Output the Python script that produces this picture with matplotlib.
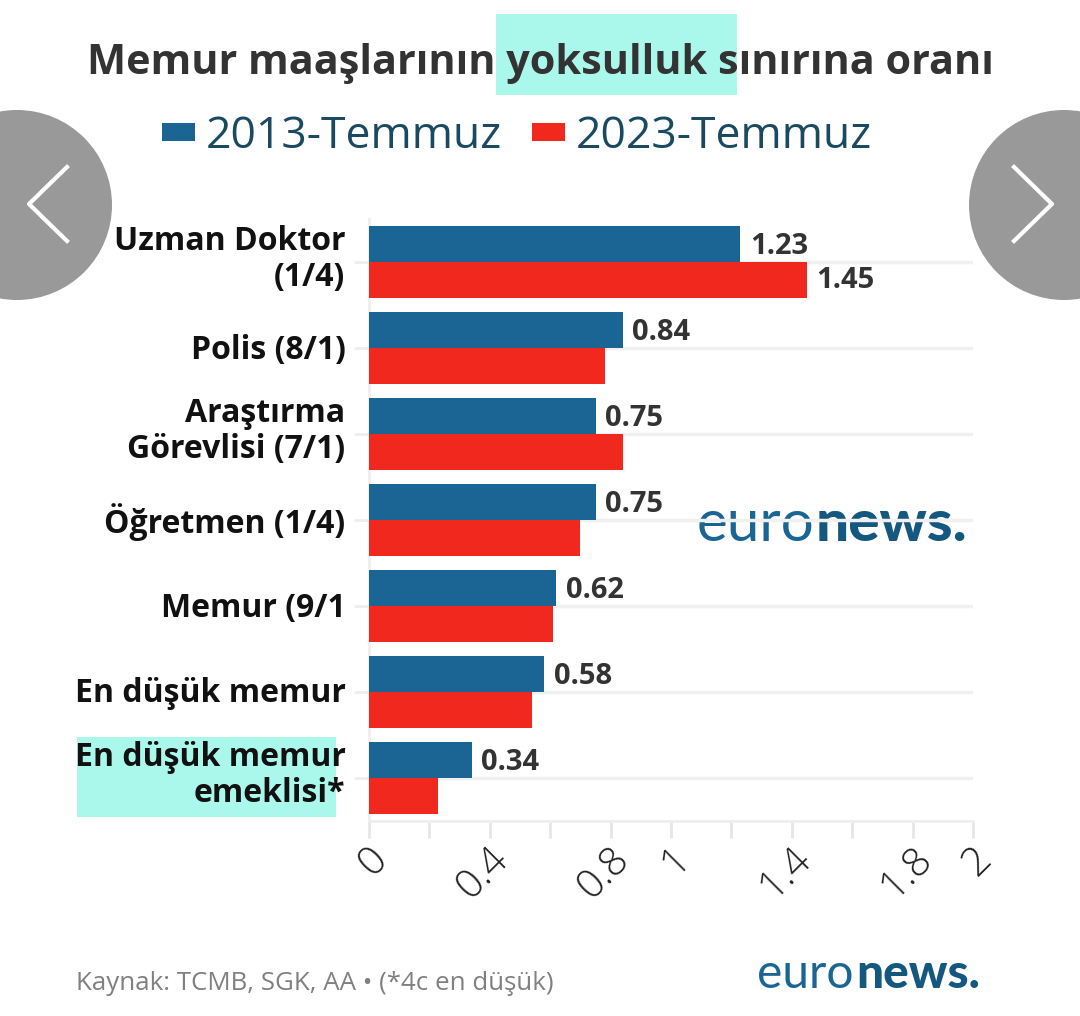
import matplotlib
matplotlib.use("Agg")
import matplotlib.pyplot as plt
from matplotlib.patches import Circle, Rectangle
from matplotlib.transforms import ScaledTranslation

plt.rcParams['font.family'] = ['Open Sans', 'DejaVu Sans']

# data
categories = ["Uzman Doktor\n(1/4)", "Polis (8/1)", "Araştırma\nGörevlisi (7/1)", "Öğretmen (1/4)",
              "Memur (9/1", "En düşük memur", "En düşük memur\nemeklisi*"]
values_2013 = [1.23, 0.84, 0.75, 0.75, 0.62, 0.58, 0.34]
values_2023 = [1.45, 0.78, 0.84, 0.70, 0.61, 0.54, 0.23]
labels_2013 = ["1.23", "0.84", "0.75", "0.75", "0.62", "0.58", "0.34"]
labels_2023 = ["1.45", "", "", "", "", "", ""]
x_ticks = [0, 0.2, 0.4, 0.6, 0.8, 1, 1.2, 1.4, 1.6, 1.8, 2]
x_tick_labels = ["0", "", "0.4", "", "0.8", "1", "", "1.4", "", "1.8", "2"]

blue = "#1b6594"
red = "#f0281e"
mint = "#aaf8ec"

W, H = 1080, 1016
fig = plt.figure(figsize=(W / 100, H / 100), dpi=100, facecolor="white")

# pixel canvas behind the chart, for highlights, title and logos
bg = fig.add_axes([0, 0, 1, 1], zorder=-1)
bg.set_xlim(0, W)
bg.set_ylim(H, 0)
bg.axis("off")

bg.add_patch(Rectangle((496, 14), 241, 81, color=mint, lw=0))
bg.add_patch(Rectangle((77, 737), 259, 80, color=mint, lw=0))

# carousel buttons from the page
for cx, tip, back in [(17, 29, 67), (1064, 1052, 1014)]:
    bg.add_patch(Circle((cx, 205), 95, color="#999999", lw=0))
    bg.plot([back, tip, back], [167, 204, 241], color="white", lw=3)

bg.text(540, 74, "Memur maaşlarının yoksulluk sınırına oranı", ha="center", va="baseline",
        fontsize=29.8, fontweight="bold", color="#333333")
bg.text(76, 990, "Kaynak: TCMB, SGK, AA • (*4c en düşük)", ha="left", va="baseline",
        fontsize=18.6, color="#808080")


def logo(x_left, x_right, y, size):
    bg.text(x_left, y, "euro", ha="left", va="baseline", fontsize=size, color="#1b6594", family="Lato")
    bg.text(x_right, y, "news.", ha="right", va="baseline", fontsize=size, fontweight="black",
            color="#14587f", family="Lato")


logo(697, 967, 541, 42)
logo(757, 980, 988, 34.5)

# main chart
ax = fig.add_axes([369 / W, 1 - 821 / H, 604 / W, 602 / H])
ax.patch.set_alpha(0)
y = list(range(len(categories)))
bars_2013 = ax.barh([i - 0.21 for i in y], values_2013, height=0.42, color=blue, label="2013-Temmuz", zorder=3)
bars_2023 = ax.barh([i + 0.21 for i in y], values_2023, height=0.42, color=red, label="2023-Temmuz", zorder=3)
ax.set_xlim(0, 2)
ax.set_ylim(len(categories) - 0.5, -0.5)

for i in y:
    ax.annotate(labels_2013[i], (values_2013[i], i - 0.21), xytext=(7, -1.5), textcoords="offset points",
                va="center", fontsize=21, fontweight="bold", color="#333333")
    ax.annotate(labels_2023[i], (values_2023[i], i + 0.21), xytext=(7, 0), textcoords="offset points",
                va="center", fontsize=21, fontweight="bold", color="#333333")

ax.set_yticks(y)
ax.set_yticklabels(categories, fontsize=23, fontweight="bold", color="#111111", linespacing=1.13)
ax.set_xticks(x_ticks)
ax.set_xticklabels(x_tick_labels, rotation=45, fontsize=29, fontweight="light", color="#222222",
                   ha="right", va="center", rotation_mode="anchor")
ax.tick_params(axis="y", length=11, width=2, color="#eeeeee", pad=6)
ax.tick_params(axis="x", length=12, width=2, color="#e6e6e6", pad=11)

# tick_params resets label transforms, so nudge the labels after it
for label in ax.get_yticklabels():
    shift = 8 if "\n" in label.get_text() else 2
    label.set_transform(label.get_transform() + ScaledTranslation(0, shift / 100, fig.dpi_scale_trans))
for label in ax.get_xticklabels():
    label.set_transform(label.get_transform() + ScaledTranslation(13 / 100, 0, fig.dpi_scale_trans))

ax.grid(axis="y", color="#f0f0f0", lw=2.5, zorder=0)
for side in ["top", "right"]:
    ax.spines[side].set_visible(False)
for side in ["left", "bottom"]:
    ax.spines[side].set_color("#eeeeee")
    ax.spines[side].set_linewidth(2)

fig.legend(handles=[bars_2013, bars_2023], loc="center", bbox_to_anchor=(517 / W, 1 - 137 / H), ncol=2,
           frameon=False, fontsize=32, labelcolor="#1a4a62", handlelength=0.75, handleheight=0.25,
           handletextpad=0.25, columnspacing=0.66)

fig.savefig("out.png", dpi=100)
